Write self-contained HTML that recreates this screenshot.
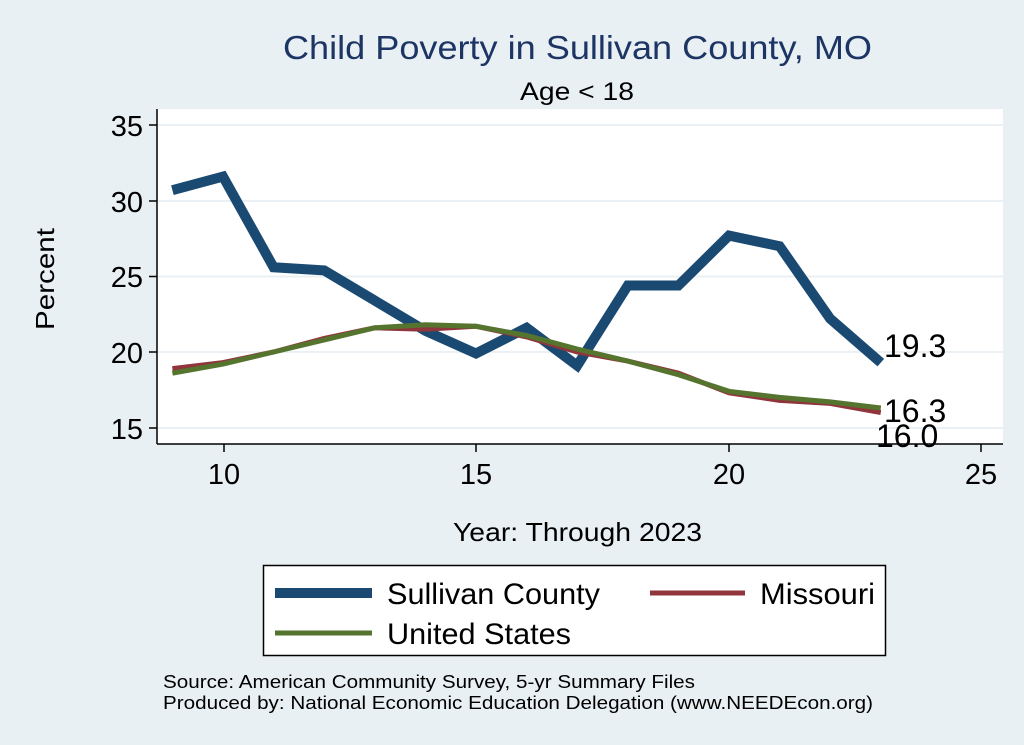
<!DOCTYPE html>
<html><head><style>
body{margin:0;background:#e9f0f3;}
svg{display:block;font-family:"Liberation Sans",sans-serif;}
</style></head><body>
<svg width="1024" height="745" viewBox="0 0 1024 745">
<rect x="0" y="0" width="1024" height="745" fill="#e9f0f3"/>
<rect x="157" y="109" width="846" height="335" fill="#fff"/>
<g stroke="#eaf0f3" stroke-width="2">
<line x1="158" x2="1003" y1="125" y2="125"/>
<line x1="158" x2="1003" y1="201" y2="201"/>
<line x1="158" x2="1003" y1="276.5" y2="276.5"/>
<line x1="158" x2="1003" y1="352" y2="352"/>
<line x1="158" x2="1003" y1="428" y2="428"/>
</g>
<g stroke="#000" stroke-width="1.5">
<line x1="157" y1="109" x2="157" y2="444"/>
<line x1="157" y1="444" x2="1003" y2="444"/>
<line x1="149" x2="157" y1="125" y2="125"/>
<line x1="149" x2="157" y1="201" y2="201"/>
<line x1="149" x2="157" y1="276.5" y2="276.5"/>
<line x1="149" x2="157" y1="352" y2="352"/>
<line x1="149" x2="157" y1="428" y2="428"/>
<line x1="224" x2="224" y1="444" y2="452"/>
<line x1="476" x2="476" y1="444" y2="452"/>
<line x1="729" x2="729" y1="444" y2="452"/>
<line x1="981" x2="981" y1="444" y2="452"/>
</g>
<g font-size="29" fill="#000" text-anchor="end">
<text x="143" y="136">35</text><text x="143" y="212">30</text><text x="143" y="287">25</text><text x="143" y="363">20</text><text x="143" y="439">15</text>
</g>
<g font-size="29" fill="#000" text-anchor="middle">
<text x="224" y="484">10</text><text x="476" y="484">15</text><text x="729" y="484">20</text><text x="981" y="484">25</text>
</g>
<text x="283" y="59" font-size="33" fill="#1c3565" textLength="589" lengthAdjust="spacingAndGlyphs">Child Poverty in Sullivan County, MO</text>
<text x="520" y="100" font-size="25" textLength="114" lengthAdjust="spacingAndGlyphs">Age &lt; 18</text>
<text x="0" y="0" font-size="26" text-anchor="middle" transform="translate(54 279) rotate(-90)" textLength="102" lengthAdjust="spacingAndGlyphs">Percent</text>
<text x="453" y="541" font-size="26" textLength="249" lengthAdjust="spacingAndGlyphs">Year: Through 2023</text>
<g fill="none" stroke-linejoin="miter">
<polyline stroke="#1a4a72" stroke-width="10" points="172.4,190.2 223,176.6 273.6,267.3 324.2,270.4 374.8,300.6 425.4,330.8 476,353.5 526.6,327.8 577.2,365.6 627.8,285.5 678.4,285.5 729,235.6 779.6,246.2 830.2,318.7 880.8,362.6"/>
<polyline stroke="#90353b" stroke-width="5" points="172.4,368.6 223,362.6 273.6,352 324.2,338.4 374.8,327.8 425.4,329.3 476,326.3 526.6,336.9 577.2,352 627.8,361.1 678.4,373.2 729,392.8 779.6,400.4 830.2,403.4 880.8,412.5"/>
<polyline stroke="#55752f" stroke-width="5" points="172.4,373.2 223,364.1 273.6,352 324.2,339.9 374.8,327.8 425.4,324.8 476,326.3 526.6,335.4 577.2,349 627.8,361.1 678.4,374.7 729,391.3 779.6,397.4 830.2,401.9 880.8,408"/>
</g>
<g font-size="32" fill="#000">
<text x="884" y="357">19.3</text>
<text x="884" y="422">16.3</text>
<text x="876" y="447">16.0</text>
</g>
<rect x="263.5" y="565.5" width="622" height="90" fill="#fff" stroke="#000" stroke-width="1.5"/>
<line x1="275" x2="372" y1="593" y2="593" stroke="#1a4a72" stroke-width="10"/>
<text x="387" y="604" font-size="30" textLength="213" lengthAdjust="spacingAndGlyphs">Sullivan County</text>
<line x1="650" x2="745" y1="593" y2="593" stroke="#90353b" stroke-width="5"/>
<text x="760" y="604" font-size="30" textLength="115" lengthAdjust="spacingAndGlyphs">Missouri</text>
<line x1="275" x2="372" y1="633" y2="633" stroke="#55752f" stroke-width="5"/>
<text x="387" y="644" font-size="30" textLength="184" lengthAdjust="spacingAndGlyphs">United States</text>
<text x="163" y="688" font-size="18" textLength="532" lengthAdjust="spacingAndGlyphs">Source: American Community Survey, 5-yr Summary Files</text>
<text x="163" y="709" font-size="18" textLength="710" lengthAdjust="spacingAndGlyphs">Produced by: National Economic Education Delegation (www.NEEDEcon.org)</text>
</svg>
</body></html>
